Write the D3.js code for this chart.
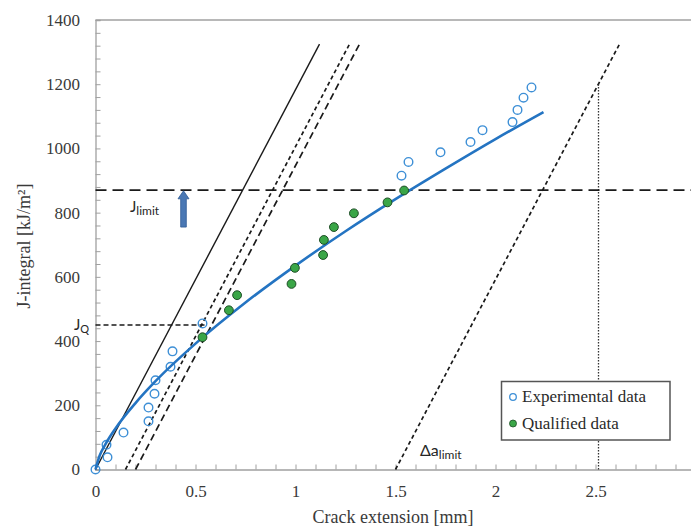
<!DOCTYPE html>
<html>
<head>
<meta charset="utf-8">
<script src="https://cdn.jsdelivr.net/npm/d3@7"></script>
<style>
  html, body { margin: 0; padding: 0; background: #fff; }
  svg { display: block; }
</style>
</head>
<body>
<svg id="chart" width="691" height="527"></svg>
<script>
// ---------- data ----------
const xTickLabels = [0, 0.5, 1, 1.5, 2, 2.5, 3];
const yTickLabels = [0, 200, 400, 600, 800, 1000, 1200, 1400];

// experimental data (open circles)
const expX = [0, 0.06, 0.055, 0.14, 0.265, 0.265, 0.295, 0.30, 0.375, 0.385, 0.535,
              1.53, 1.565, 1.725, 1.875, 1.935, 2.085, 2.11, 2.14, 2.18];
const expJ = [0, 38, 77, 115, 150, 193, 236, 278, 320, 368, 455,
              915, 958, 988, 1020, 1057, 1082, 1120, 1158, 1190];

// qualified data (filled green)
const qualX = [0.535, 0.667, 0.708, 0.98, 0.997, 1.138, 1.142, 1.192, 1.292, 1.46, 1.543];
const qualJ = [412, 496, 543, 578, 628, 668, 715, 755, 798, 832, 869];

// fitted curve
const curveX = [0, 0.02, 0.05, 0.1, 0.2, 0.3, 0.5, 0.75, 1, 1.25, 1.5, 1.75, 2, 2.24];
const curveJ = [0, 42, 79, 128, 207, 275, 392, 520, 635, 742, 842, 937, 1029, 1113];

// construction lines (blunting line and offset lines)
const lineStartX = [0, 0.15, 0.2, 1.5];
const lineEndX   = [1.12, 1.27, 1.32, 2.62];
const lineEndJ   = 1325;

const jLimit = 870;
const jQ = 450;
const jQEndX = 0.56;
const dxLimitX = 2.515;
const dxLimitTopJ = 1200;
const arrowX = 0.44;
const arrowJ = [755, 868];

const legendLabels = ["Experimental data", "Qualified data"];

// ---------- drawing ----------
const svg = d3.select("#chart");
const x = d3.scaleLinear().domain([0, 3]).range([95.5, 695.5]);
const y = d3.scaleLinear().domain([0, 1400]).range([469.5, 20]);

const serif = "'Liberation Serif', 'Times New Roman', serif";
const sans = "Lato, 'Open Sans', 'Liberation Sans', sans-serif";
const axisColor = "#a0a0a0";

// frame: top border
svg.append("line")
  .attr("x1", x(0)).attr("x2", x(3)).attr("y1", y(1400)).attr("y2", y(1400))
  .attr("stroke", axisColor).attr("stroke-width", 1.3);

// minor ticks
const xMinor = d3.range(0, 31).map(i => i / 10);
const yMinor = d3.range(0, 36).map(i => i * 40);

const gx = svg.append("g").attr("transform", `translate(0,${y(0)})`);
gx.call(d3.axisBottom(x).tickValues(xMinor).tickSize(-5).tickFormat(""));
gx.select(".domain").attr("stroke", axisColor).attr("stroke-width", 1.3);
gx.selectAll(".tick line").attr("stroke", axisColor);

const gxl = svg.append("g").attr("transform", `translate(0,${y(0)})`);
gxl.call(d3.axisBottom(x).tickValues(xTickLabels).tickSize(0).tickPadding(15).tickFormat(d => String(d)));
gxl.select(".domain").remove();
gxl.selectAll("text").attr("font-family", serif).attr("font-size", 17).attr("fill", "#3a3a3a");

const gy = svg.append("g").attr("transform", `translate(${x(0)},0)`);
gy.call(d3.axisLeft(y).tickValues(yMinor).tickSize(-5).tickFormat(""));
gy.select(".domain").attr("stroke", axisColor).attr("stroke-width", 1.3);
gy.selectAll(".tick line").attr("stroke", axisColor);

const gyl = svg.append("g").attr("transform", `translate(${x(0)},0)`);
gyl.call(d3.axisLeft(y).tickValues(yTickLabels).tickSize(0).tickPadding(15.5).tickFormat(d3.format("d")));
gyl.select(".domain").remove();
gyl.selectAll("text").attr("font-family", serif).attr("font-size", 17).attr("fill", "#3a3a3a");

// axis titles
svg.append("text")
  .attr("x", 393).attr("y", 523)
  .attr("text-anchor", "middle")
  .attr("font-family", serif).attr("font-size", 18).attr("fill", "#3a3a3a")
  .text("Crack extension [mm]");

svg.append("text")
  .attr("transform", "translate(30,246) rotate(-90)")
  .attr("text-anchor", "middle")
  .attr("font-family", serif).attr("font-size", 18).attr("fill", "#3a3a3a")
  .text("J-integral [kJ/m²]");

// construction lines
const lineDash = [null, "4,3", "7,4", "4,3"];
lineStartX.forEach((sx, i) => {
  svg.append("line")
    .attr("x1", x(sx)).attr("y1", y(0))
    .attr("x2", x(lineEndX[i])).attr("y2", y(lineEndJ))
    .attr("stroke", "#1a1a1a")
    .attr("stroke-width", i === 0 ? 1.4 : 1.7)
    .attr("stroke-dasharray", lineDash[i]);
});

// vertical dotted line at delta a limit
svg.append("line")
  .attr("x1", x(dxLimitX)).attr("x2", x(dxLimitX))
  .attr("y1", y(0)).attr("y2", y(dxLimitTopJ))
  .attr("stroke", "#333").attr("stroke-width", 1.3)
  .attr("stroke-dasharray", "1.5,1.5");

// J limit line
svg.append("line")
  .attr("x1", x(0)).attr("x2", x(3))
  .attr("y1", y(jLimit)).attr("y2", y(jLimit))
  .attr("stroke", "#1a1a1a").attr("stroke-width", 1.8)
  .attr("stroke-dasharray", "11,6");

// JQ line
svg.append("line")
  .attr("x1", x(0)).attr("x2", x(jQEndX))
  .attr("y1", y(jQ)).attr("y2", y(jQ))
  .attr("stroke", "#1a1a1a").attr("stroke-width", 1.3)
  .attr("stroke-dasharray", "5,3");

// experimental points
svg.append("g").selectAll("circle")
  .data(expX.map((d, i) => [d, expJ[i]]))
  .join("circle")
  .attr("cx", d => x(d[0])).attr("cy", d => y(d[1]))
  .attr("r", 4.3)
  .attr("fill", "none")
  .attr("stroke", "#3d8fd6").attr("stroke-width", 1.4);

// fitted curve
svg.append("path")
  .datum(curveX.map((d, i) => [d, curveJ[i]]))
  .attr("d", d3.line().x(d => x(d[0])).y(d => y(d[1])).curve(d3.curveMonotoneX))
  .attr("fill", "none")
  .attr("stroke", "#2474c2").attr("stroke-width", 2.6);

// qualified points
svg.append("g").selectAll("circle")
  .data(qualX.map((d, i) => [d, qualJ[i]]))
  .join("circle")
  .attr("cx", d => x(d[0])).attr("cy", d => y(d[1]))
  .attr("r", 4.4)
  .attr("fill", "#3aa647")
  .attr("stroke", "#1d4d25").attr("stroke-width", 1);

// arrow
{
  const ax = x(arrowX), y0 = y(arrowJ[0]), y1 = y(arrowJ[1]);
  const sw = 2.8, hw = 5.5, hh = 8;
  const p = d3.path();
  p.moveTo(ax - sw, y0);
  p.lineTo(ax - sw, y1 + hh);
  p.lineTo(ax - hw, y1 + hh);
  p.lineTo(ax, y1);
  p.lineTo(ax + hw, y1 + hh);
  p.lineTo(ax + sw, y1 + hh);
  p.lineTo(ax + sw, y0);
  p.closePath();
  svg.append("path").attr("d", p.toString())
    .attr("fill", "#4a78b4").attr("stroke", "#2f5a94").attr("stroke-width", 0.8);
}

// annotations
function subLabel(px, py, main, sub, size, subSize, subDy) {
  const t = svg.append("text")
    .attr("x", px).attr("y", py)
    .attr("font-family", sans).attr("font-size", size).attr("fill", "#262626");
  t.append("tspan").text(main);
  t.append("tspan").attr("font-size", subSize).attr("dy", subDy).text(sub);
}
subLabel(130, 212, "J", "limit", 15, 12, 3);
subLabel(74, 330, "J", "Q", 15, 11, 3);
subLabel(420, 456, "Δa", "limit", 16, 12, 3);

// legend
svg.append("rect")
  .attr("x", 501.5).attr("y", 381.5).attr("width", 168.5).attr("height", 58.5)
  .attr("fill", "#fff").attr("stroke", "#555").attr("stroke-width", 1.5);
svg.append("circle").attr("cx", 513).attr("cy", 397)
  .attr("r", 3.3).attr("fill", "#fff").attr("stroke", "#3d8fd6").attr("stroke-width", 1.3);
svg.append("circle").attr("cx", 513).attr("cy", 423.5)
  .attr("r", 3.5).attr("fill", "#3aa647").attr("stroke", "#1d4d25").attr("stroke-width", 0.8);
legendLabels.forEach((lab, i) => {
  svg.append("text")
    .attr("x", 522).attr("y", 402 + i * 27)
    .attr("font-family", serif).attr("font-size", 17).attr("fill", "#2a2a2a")
    .text(lab);
});
</script>
</body>
</html>
